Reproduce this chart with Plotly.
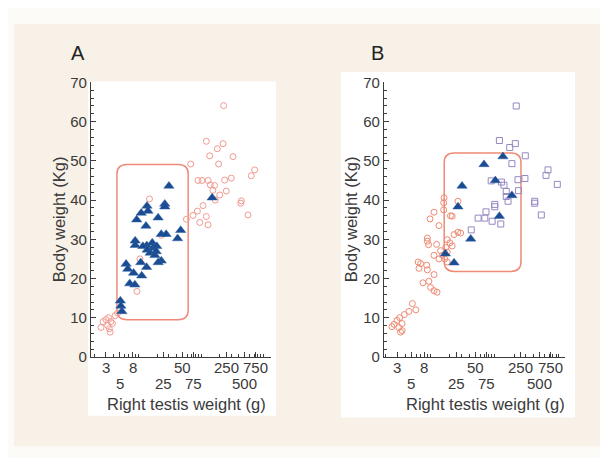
import plotly.graph_objects as go
import math

# ---------------- data ----------------
# Panel A: open salmon circles
a_red_x = [2.5, 2.7, 3.0, 3.2, 3.3, 3.4, 3.5, 3.6, 3.8, 4.2, 4.6,
           9.4, 14.9, 10.5, 23.0,
           229, 121, 224, 181, 137, 323, 190, 68, 717, 634, 89, 103, 129, 140, 164,
           237, 303, 154, 198, 252, 168, 107, 439, 430, 87, 561, 121, 74, 58, 95, 129]
a_red_y = [7.5, 9.0, 9.5, 8.0, 10.0, 7.2, 6.3, 9.0, 8.5, 10.5, 11.2,
           16.7, 40.3, 25.0, 31.0,
           64.1, 55.0, 54.4, 53.1, 51.3, 51.1, 49.2, 49.2, 47.7, 46.2, 45.0, 45.0, 45.0, 43.9, 43.7,
           45.1, 45.6, 42.5, 41.3, 42.3, 40.0, 38.6, 39.8, 39.2, 37.2, 36.2, 35.8, 36.1, 35.1, 34.3, 33.7]

# Panel A: filled blue triangles
a_blue_x = [30.5, 26.2, 26.2, 13.6, 14.1, 11.0, 20.5, 9.3, 13.1, 23.0, 27.5, 47, 42,
            8.8, 8.8, 13.5, 11.7, 16.5, 17, 19.5, 13.7, 15.3, 19.1, 18.2, 23, 20.5,
            10.8, 6.3, 6.7, 13.4, 8.3, 11.2, 7.2, 8.7, 5.1, 5.2, 5.4, 150]
a_blue_y = [43.6, 39.0, 38.3, 38.5, 37.2, 36.7, 35.5, 35.0, 33.4, 31.3, 31.3, 32.3, 30.2,
            29.6, 28.5, 28.4, 28.2, 29.1, 27.8, 28.2, 27.3, 26.5, 26.9, 25.9, 24.5, 24.1,
            24.1, 23.7, 22.4, 22.9, 21.4, 20.7, 18.7, 18.4, 14.3, 13.0, 11.6, 40.6]

# Panel B: open salmon circles
b_red_x = [16.2, 16.0, 16.0, 11.3, 9.8, 21.7, 13.5, 8.9, 8.9, 9.3, 12.4, 18.2, 23.2, 26.7,
           29.4, 20.0, 21.7, 17.2, 14.3, 18.2, 11.3, 15.3, 13.5, 16.6, 18.2, 6.4, 7.0, 8.7,
           6.6, 8.9, 11.3, 7.6, 9.4, 10.0, 11.3, 12.6, 5.2, 5.9, 4.6, 3.9, 3.3, 3.0, 3.6, 2.7,
           3.2, 2.5, 3.6, 3.4, 26.7, 20.4]
b_red_y = [40.6, 39.3, 37.5, 36.9, 35.2, 35.9, 33.5, 30.3, 29.5, 28.6, 28.7, 29.9, 31.2, 31.8,
           31.6, 29.1, 28.3, 27.9, 27.1, 26.7, 25.9, 25.9, 25.0, 25.0, 24.2, 24.2, 23.8, 23.4,
           22.6, 22.2, 21.0, 18.9, 19.3, 17.7, 16.9, 16.5, 13.6, 12.0, 11.6, 10.8, 10.0, 9.3, 8.5, 8.3,
           7.5, 7.7, 6.7, 6.3, 39.7, 36.0]

# Panel B: open purple squares
b_sq_x = [216, 118, 209, 171, 299, 185, 675, 628, 942, 295, 230, 88, 127, 139, 151, 234,
          151, 161, 419, 419, 100, 100, 73, 531, 55, 70, 91, 124, 43]
b_sq_y = [64.0, 55.2, 54.4, 53.4, 51.3, 49.3, 47.7, 46.3, 44.0, 45.5, 45.2, 44.9, 44.6, 43.8, 42.2, 42.4,
          40.9, 39.7, 39.7, 39.2, 38.9, 38.3, 37.0, 36.2, 35.4, 35.4, 34.6, 33.9, 32.4]

# Panel B: filled blue triangles
b_blue_x = [134, 68, 102, 30.9, 185, 26.7, 118, 42.2, 17, 23.2]
b_blue_y = [51.1, 49.1, 45.0, 43.6, 41.2, 38.3, 35.9, 30.1, 26.3, 24.0]

# highlighted ranges (rounded boxes)
a_box = dict(x0=4.5, x1=62, y0=9.5, y1=49.1)
b_box = dict(x0=16.3, x1=256, y0=21.8, y1=52.0)

tick_row1 = [3, 8, 50, 250, 750]
tick_row2 = [5, 25, 75, 500]
tick_vals = tick_row1 + tick_row2
minor_vals = [m * 10 ** e for e in range(0, 4) for m in range(1, 10)]

# ---------------- figure ----------------
W, H = 608, 458
RED_A = "#f29a90"
RED_B = "#ef8a74"
BLUE = "#1b4b90"
PURPLE = "#9787c4"
AX = "#3c3c3c"
TXT = "#3a3a3a"
FONT = "Liberation Sans, Arial, sans-serif"

fig = go.Figure()

def px(x):
    return x / W

def py(y):
    return 1 - y / H

# background panels
shapes = [
    dict(type="rect", xref="paper", yref="paper", x0=px(6), x1=px(601), y0=py(446), y1=py(7),
         fillcolor="#f8f1e7", line_width=0, layer="below"),
    dict(type="rect", xref="paper", yref="paper", x0=px(80), x1=px(268), y0=py(414), y1=py(67),
         fillcolor="#ffffff", line_width=0, layer="below"),
    dict(type="rect", xref="paper", yref="paper", x0=px(333), x1=px(567), y0=py(416), y1=py(57),
         fillcolor="#ffffff", line_width=0, layer="below"),
]

def rounded(box, xref, yref, ppd, ppu, color, r=10):
    f = 10 ** (r / ppd)
    ry = r / ppu
    x0, x1, y0, y1 = box["x0"], box["x1"], box["y0"], box["y1"]
    p = (f"M {x0*f},{y1} L {x1/f},{y1} Q {x1},{y1} {x1},{y1-ry} L {x1},{y0+ry} "
         f"Q {x1},{y0} {x1/f},{y0} L {x0*f},{y0} Q {x0},{y0} {x0},{y0+ry} "
         f"L {x0},{y1-ry} Q {x0},{y1} {x0*f},{y1} Z")
    return dict(type="path", xref=xref, yref=yref, path=p,
                line=dict(color=color, width=1.5), layer="below")

shapes.append(rounded(a_box, "x", "y", 62.5, 4.07, "#ef8a7a"))
shapes.append(rounded(b_box, "x2", "y2", 64.2, 4.086, "#ef8a74"))

def circle(c):
    return dict(symbol="circle-open", size=6, color=c, line=dict(width=1, color=c))
tri = dict(symbol="triangle-up", size=9, color=BLUE, line=dict(width=0.5, color="#2f64a8"))
sq = dict(symbol="square-open", size=6, color=PURPLE, line=dict(width=1, color=PURPLE))

fig.add_trace(go.Scatter(x=a_red_x, y=a_red_y, mode="markers", marker=circle(RED_A), xaxis="x", yaxis="y"))
fig.add_trace(go.Scatter(x=a_blue_x, y=a_blue_y, mode="markers", marker=tri, xaxis="x", yaxis="y"))
fig.add_trace(go.Scatter(x=b_red_x, y=b_red_y, mode="markers", marker=circle(RED_B), xaxis="x2", yaxis="y2"))
fig.add_trace(go.Scatter(x=b_sq_x, y=b_sq_y, mode="markers", marker=sq, xaxis="x2", yaxis="y2"))
fig.add_trace(go.Scatter(x=b_blue_x, y=b_blue_y, mode="markers", marker=tri, xaxis="x2", yaxis="y2"))

def xaxis(domain, lo, hi, anchor):
    return dict(type="log", domain=domain, range=[math.log10(lo), math.log10(hi)], anchor=anchor,
                showgrid=False, zeroline=False, showline=True, linecolor=AX, linewidth=1.2,
                ticks="inside", ticklen=5, tickcolor=AX, tickvals=tick_vals, showticklabels=False,
                minor=dict(tickvals=minor_vals, ticks="inside", ticklen=3, tickcolor=AX))

def yaxis(domain, anchor):
    return dict(domain=domain, range=[0, 70], anchor=anchor, showgrid=False, zeroline=False,
                showline=True, linecolor=AX, linewidth=1.2, ticks="inside", ticklen=5, tickcolor=AX,
                dtick=10, tickfont=dict(family=FONT, size=15, color=TXT),
                minor=dict(dtick=2, ticks="inside", ticklen=3, tickcolor=AX))

ydom = [1 - 353 / H, 1 - 68 / H]
fig.update_layout(
    width=W, height=H, margin=dict(l=0, r=0, t=0, b=0),
    paper_bgcolor="#fdfbf8", plot_bgcolor="rgba(0,0,0,0)", showlegend=False,
    xaxis=xaxis([83 / W, 263 / W], 1.73, 1309, "y"),
    yaxis=yaxis(ydom, "x"),
    xaxis2=xaxis([376 / W, 557 / W], 1.88, 1242, "y2"),
    yaxis2=yaxis(ydom, "x2"),
    shapes=shapes,
    font=dict(family=FONT, color=TXT),
)

ann = []
def text(x, y, t, size=15, angle=0, color=TXT):
    ann.append(dict(xref="paper", yref="paper", x=px(x), y=py(y), text=t, showarrow=False,
                    textangle=angle, font=dict(family=FONT, size=size, color=color),
                    xanchor="center", yanchor="middle"))

# x tick labels in two staggered rows, placed on the log axes
for xr in ("x", "x2"):
    for row, ypix in ((tick_row1, 364), (tick_row2, 381)):
        for v in row:
            ann.append(dict(xref=xr, yref="paper", x=math.log10(v), y=py(ypix), text=str(v),
                            showarrow=False, xanchor="center", yanchor="middle",
                            font=dict(family=FONT, size=15, color=TXT)))

text(70, 37, "A", size=20, color="#222")
text(369, 37, "B", size=20, color="#222")
text(51, 210, "Body weight (Kg)", size=16.5, angle=-90)
text(343, 210, "Body weight (Kg)", size=16.5, angle=-90)
text(178, 402, "Right testis weight (g)", size=16.5)
text(477, 402, "Right testis weight (g)", size=16.5)
fig.update_layout(annotations=ann)

fig.write_html("out.html")
